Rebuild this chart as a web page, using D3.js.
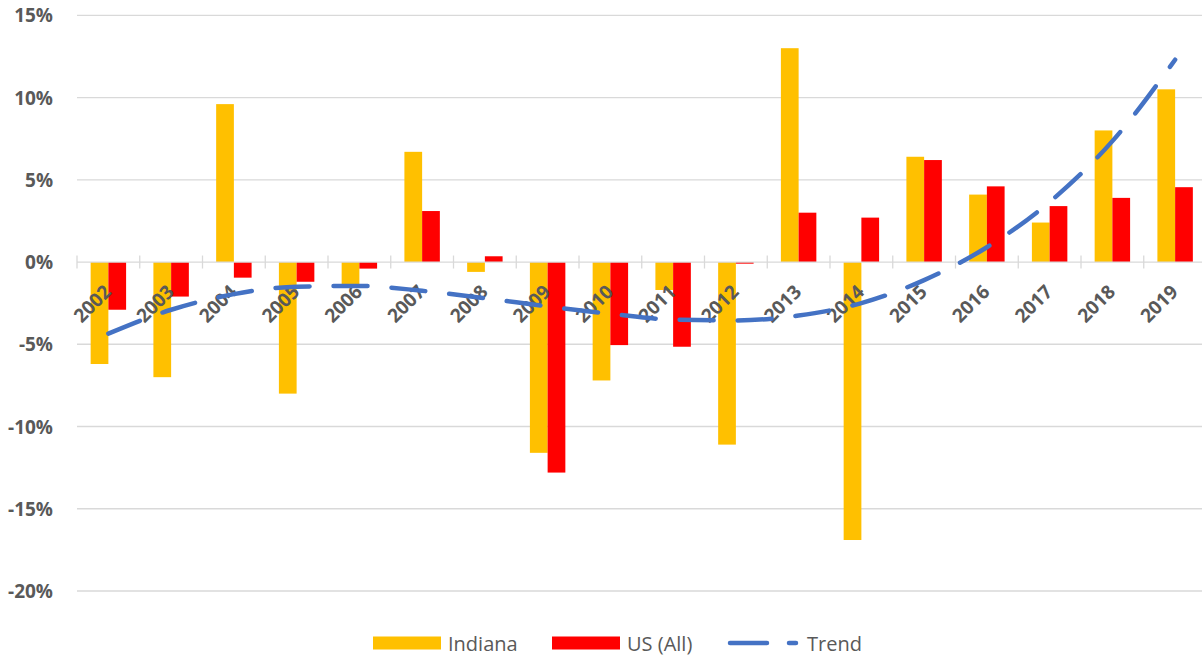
<!DOCTYPE html>
<html>
<head>
<meta charset="utf-8">
<script src="https://cdn.jsdelivr.net/npm/d3@7"></script>
<style>
  html, body { margin: 0; padding: 0; background: #fff; }
  svg { display: block; }
</style>
</head>
<body>
<svg id="chart" width="1202" height="656"></svg>
<script>
// ---- data ----
const years = ["2002","2003","2004","2005","2006","2007","2008","2009","2010","2011","2012","2013","2014","2015","2016","2017","2018","2019"];
const indiana = [-6.2, -7.0, 9.6, -8.0, -1.5, 6.7, -0.6, -11.6, -7.2, -1.7, -11.1, 13.0, -16.9, 6.4, 4.1, 2.4, 8.0, 10.5];
const usAll   = [-2.9, -2.1, -0.95, -1.2, -0.4, 3.1, 0.35, -12.8, -5.05, -5.15, -0.1, 3.0, 2.7, 6.2, 4.6, 3.4, 3.9, 4.55];
const trend   = [-4.35, -2.9, -1.95, -1.5, -1.45, -1.75, -2.2, -2.7, -3.15, -3.5, -3.55, -3.25, -2.5, -1.1, 0.9, 3.65, 7.35, 12.3];
const yTicks  = [-20, -15, -10, -5, 0, 5, 10, 15];
const seriesNames = ["Indiana", "US (All)"];
const colors = { "Indiana": "#FFC000", "US (All)": "#FF0000", "Trend": "#4472C4" };

// ---- layout ----
const svg = d3.select("#chart");
const plot = { left: 77, right: 1206.5, top: 15.3, bottom: 591 };
const gridColor = "#D9D9D9";
const textColor = "#595959";
const font = "'Open Sans', 'Liberation Sans', sans-serif";

const x0 = d3.scaleBand().domain(years).range([plot.left, plot.right]).padding(0);
const x1 = d3.scaleBand().domain(seriesNames).range([0, x0.bandwidth()]).paddingInner(0).paddingOuter(0.77);
const y = d3.scaleLinear().domain([-20, 15]).range([plot.bottom, plot.top]);

// gridlines
svg.append("g").selectAll("line").data(yTicks.filter(d => d !== 0)).join("line")
  .attr("x1", plot.left).attr("x2", 1202)
  .attr("y1", d => y(d)).attr("y2", d => y(d))
  .attr("stroke", gridColor).attr("stroke-width", 1.3);

// y axis labels
svg.append("g").selectAll("text").data(yTicks).join("text")
  .attr("x", 53).attr("y", d => y(d))
  .attr("text-anchor", "end").attr("dominant-baseline", "central")
  .attr("font-family", font).attr("font-weight", "bold").attr("font-size", 19)
  .attr("fill", textColor)
  .text(d => d + "%");

// bars
const rows = years.map((yr, i) => ({ year: yr, vals: [ {k: "Indiana", v: indiana[i]}, {k: "US (All)", v: usAll[i]} ] }));
const groups = svg.append("g").selectAll("g").data(rows).join("g")
  .attr("transform", d => `translate(${x0(d.year)},0)`);
groups.selectAll("rect").data(d => d.vals).join("rect")
  .attr("x", d => x1(d.k))
  .attr("width", x1.bandwidth())
  .attr("y", d => y(Math.max(0, d.v)))
  .attr("height", d => Math.abs(y(d.v) - y(0)))
  .attr("fill", d => colors[d.k]);

// zero axis line + cross ticks
svg.append("line")
  .attr("x1", plot.left).attr("x2", 1202)
  .attr("y1", y(0)).attr("y2", y(0))
  .attr("stroke", gridColor).attr("stroke-width", 1.3);
const tickXs = years.map(yr => x0(yr)).concat([plot.right]);
svg.append("g").selectAll("line").data(tickXs).join("line")
  .attr("x1", d => d).attr("x2", d => d)
  .attr("y1", y(0) - 6.5).attr("y2", y(0) + 6.5)
  .attr("stroke", gridColor).attr("stroke-width", 1.3);

// x labels
svg.append("g").selectAll("text").data(years).join("text")
  .attr("transform", d => `translate(${x0(d) + x0.bandwidth() / 2 + 4},${y(0) + 31}) rotate(-45)`)
  .attr("text-anchor", "end")
  .attr("font-family", font).attr("font-weight", "bold").attr("font-size", 19)
  .attr("fill", textColor)
  .text(d => d);

// trend line
const line = d3.line()
  .x((d, i) => x0(years[i]) + x0.bandwidth() / 2)
  .y(d => y(d))
  .curve(d3.curveMonotoneX);
svg.append("path").datum(trend)
  .attr("d", line)
  .attr("fill", "none")
  .attr("stroke", colors["Trend"])
  .attr("stroke-width", 4.5)
  .attr("stroke-linecap", "round")
  .attr("stroke-dasharray", "34 24");

// legend
const lg = svg.append("g").attr("font-family", font).attr("font-size", 20).attr("fill", textColor);
const ly = 643;
lg.append("rect").attr("x", 373).attr("y", ly - 6.5).attr("width", 68).attr("height", 13).attr("fill", colors["Indiana"]);
lg.append("text").attr("x", 448).attr("y", ly).attr("dominant-baseline", "central").text("Indiana");
lg.append("rect").attr("x", 552).attr("y", ly - 6.5).attr("width", 68).attr("height", 13).attr("fill", colors["US (All)"]);
lg.append("text").attr("x", 627).attr("y", ly).attr("dominant-baseline", "central").text("US (All)");
lg.append("line").attr("x1", 730).attr("x2", 796).attr("y1", ly).attr("y2", ly)
  .attr("stroke", colors["Trend"]).attr("stroke-width", 4.5).attr("stroke-linecap", "round")
  .attr("stroke-dasharray", "37 22");
lg.append("text").attr("x", 807).attr("y", ly).attr("dominant-baseline", "central").text("Trend");
</script>
</body>
</html>
